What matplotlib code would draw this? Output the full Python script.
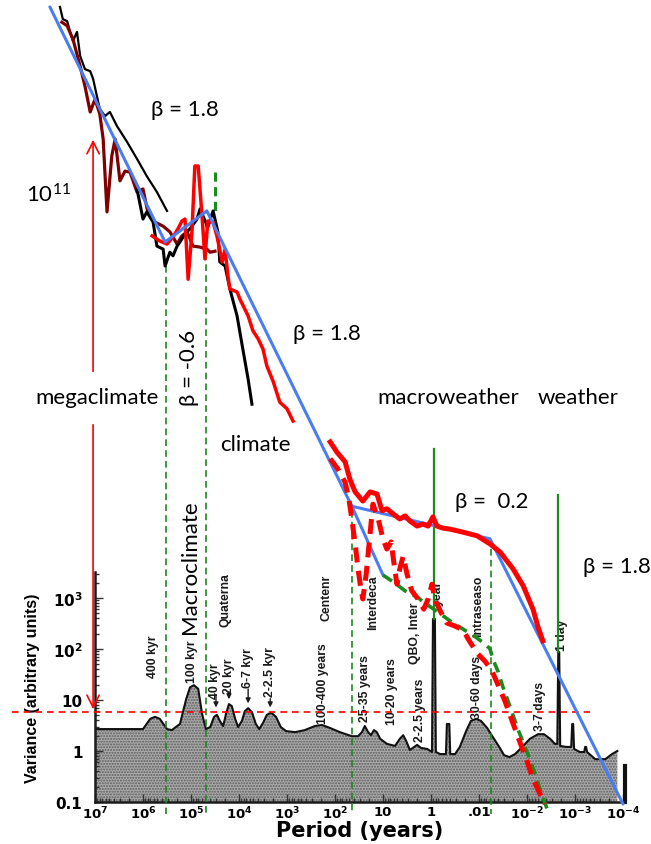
import numpy as np
import matplotlib
matplotlib.use("Agg")
import matplotlib.pyplot as plt

# all values are log10(period / years) and log10(variance, arbitrary units)

# Mitchell (1976) background spectrum
mitchell_logp = [7.0, 6.0, 5.85, 5.75, 5.65, 5.5, 5.4, 5.23, 5.1, 5.02,
                 4.94, 4.85, 4.77, 4.69, 4.6, 4.52, 4.46, 4.4, 4.33, 4.27,
                 4.21, 4.15, 4.08, 4.02, 3.94, 3.88, 3.81, 3.73, 3.65, 3.58,
                 3.5, 3.42, 3.33, 3.23, 3.13, 3.02, 2.83, 2.63, 2.42, 2.27,
                 2.1, 1.9, 1.65, 1.52, 1.44, 1.38, 1.31, 1.25, 1.19, 1.13,
                 1.06, 0.92, 0.75, 0.65, 0.58, 0.52, 0.44, 0.35, 0.29, 0.21,
                 0.08, -0.02, -0.04, -0.08, -0.1, -0.19, -0.31, -0.33, -0.38, -0.4,
                 -0.5, -0.6, -0.73, -0.83, -0.94, -1.04, -1.17, -1.29, -1.42, -1.52,
                 -1.63, -1.75, -1.9, -2.06, -2.23, -2.35, -2.48, -2.58, -2.63, -2.65,
                 -2.67, -2.69, -2.81, -2.92, -2.94, -2.96, -2.98, -3.1, -3.19, -3.21,
                 -3.23, -3.25, -3.42, -3.63, -3.77, -3.88]
mitchell_logv = [0.43, 0.43, 0.63, 0.67, 0.63, 0.43, 0.41, 0.53, 1.02, 1.25,
                 1.29, 1.22, 0.73, 0.43, 0.47, 0.67, 0.71, 0.59, 0.49, 0.73,
                 0.92, 0.88, 0.63, 0.47, 0.59, 0.78, 0.84, 0.76, 0.53, 0.43,
                 0.55, 0.71, 0.75, 0.67, 0.47, 0.39, 0.37, 0.41, 0.49, 0.51,
                 0.45, 0.37, 0.29, 0.29, 0.37, 0.49, 0.37, 0.31, 0.41, 0.37,
                 0.24, 0.14, 0.1, 0.24, 0.31, 0.2, 0.02, 0.08, 0.12, 0.06,
                 0.04, -0.02, 2.59, 2.59, -0.02, -0.06, -0.06, 0.53, 0.53, -0.06,
                 -0.06, 0.08, 0.39, 0.59, 0.63, 0.59, 0.45, 0.27, 0.08, -0.08,
                 -0.12, -0.06, 0.08, 0.24, 0.33, 0.33, 0.24, 0.14, 0.14, 1.94,
                 1.94, 0.1, 0.08, 0.08, 0.53, 0.53, 0.04, -0.02, -0.02, 0.08,
                 0.08, -0.02, -0.16, -0.16, -0.06, 0.0]

# scaling-regime fits
blue_logp = [7.94, 5.54, 4.67, 1.65, -1.23, -4.0]
blue_logv = [14.59, 9.98, 10.59, 4.80, 4.16, -1.04]
blue_branch_logp = [1.65, 1.0]
blue_branch_logv = [4.80, 3.45]

# paleo / instrumental spectra
black_hi_logp = [7.73, 7.67, 7.58, 7.52, 7.46, 7.375, 7.31, 7.21, 7.10, 7.04,
                 6.96, 6.90, 6.79, 6.69, 6.54, 6.33, 6.125, 5.92, 5.71, 5.5]
black_hi_logv = [14.59, 14.35, 14.31, 14.10, 13.92, 14.10, 13.63, 13.37, 13.33, 13.18,
                 12.84, 12.59, 12.45, 12.53, 12.25, 11.94, 11.61, 11.27, 10.96, 10.59]

black_lo_logp = [6.125, 6.0, 5.92, 5.79, 5.71, 5.58, 5.54, 5.44, 5.375, 5.29,
                 5.23, 5.125, 5.02, 4.875, 4.81, 4.75, 4.65, 4.54, 4.44, 4.40,
                 4.29, 4.19, 4.04, 3.92, 3.81, 3.73]
black_lo_logv = [11.02, 10.43, 10.57, 10.37, 9.90, 9.84, 9.51, 9.78, 9.71, 9.90,
                 9.98, 10.14, 10.24, 10.43, 10.63, 10.49, 10.27, 10.59, 10.18, 9.59,
                 9.51, 9.06, 8.53, 7.88, 7.29, 6.80]

darkred_logp = [7.69, 7.58, 7.46, 7.31, 7.21, 7.10, 7.0, 6.90, 6.83, 6.75,
                6.65, 6.58, 6.48, 6.375, 6.27, 6.125, 6.0, 5.90, 5.75, 5.58,
                5.44, 5.29, 5.19, 5.08, 4.96, 4.81, 4.67, 4.60, 4.5]
darkred_logv = [14.29, 14.22, 13.96, 13.43, 13.04, 12.53, 12.78, 12.49, 12.0, 10.57,
                11.67, 12.0, 11.18, 11.37, 11.35, 10.96, 11.02, 10.57, 10.37, 10.29,
                10.18, 9.94, 10.10, 10.18, 9.90, 9.88, 9.84, 9.78, 9.80]

red_logp = [5.81, 5.65, 5.5, 5.375, 5.27, 5.19, 5.125, 5.06, 4.98, 4.92,
            4.85, 4.77, 4.71, 4.65, 4.54, 4.46, 4.35, 4.29, 4.23, 4.19,
            4.04, 3.98, 3.81, 3.71, 3.60, 3.5, 3.42, 3.29, 3.15, 3.0, 2.875]
red_logv = [10.10, 10.0, 9.94, 10.08, 10.24, 10.39, 10.43, 9.25, 10.18, 11.47,
            11.47, 10.49, 9.65, 10.39, 10.37, 10.10, 9.59, 9.84, 9.31, 9.06,
            9.0, 8.86, 8.53, 8.24, 8.08, 7.88, 7.55, 7.25, 6.84, 6.71, 6.47]

macro_logp = [2.10, 1.96, 1.79, 1.69, 1.58, 1.42, 1.27, 1.125, 1.02, 0.92,
              0.79, 0.65, 0.54, 0.44, 0.29, 0.17, 0.06, -0.04, -0.125, -0.25,
              -0.40, -0.67, -0.96, -1.23, -1.44, -1.71, -1.92, -2.125, -2.23, -2.33]
macro_logv = [6.06, 5.86, 5.67, 5.33, 5.08, 4.90, 5.08, 5.04, 4.71, 4.75,
              4.65, 4.55, 4.61, 4.51, 4.41, 4.45, 4.41, 4.59, 4.41, 4.37,
              4.35, 4.29, 4.22, 4.06, 3.90, 3.57, 3.24, 2.78, 2.43, 2.16]

model_logp = [2.10, 1.94, 1.79, 1.71, 1.65, 1.58, 1.52, 1.46, 1.42, 1.35,
              1.29, 1.21, 1.10, 1.0, 0.92, 0.83, 0.77, 0.71, 0.65, 0.58,
              0.5, 0.40, 0.27, 0.15, 0.06, -0.02, -0.08, -0.19, -0.33, -0.5,
              -0.67, -0.81, -0.98, -1.125, -1.27, -1.40, -1.54, -1.69, -1.85, -2.0,
              -2.125, -2.27, -2.375]
model_logv = [5.73, 5.53, 5.27, 4.94, 4.55, 4.06, 3.57, 3.18, 2.98, 3.47,
              4.06, 4.84, 4.55, 4.16, 3.96, 4.10, 3.67, 3.27, 3.57, 3.82,
              3.47, 3.14, 2.98, 2.78, 2.98, 3.27, 2.98, 2.75, 2.51, 2.45,
              2.37, 2.14, 1.90, 1.76, 1.57, 1.29, 0.98, 0.59, 0.18, -0.20,
              -0.55, -0.84, -1.04]

green_logp = [1.0, 0.75, 0.54, 0.29, 0.125, -0.06, -0.25, -0.40, -0.60, -0.92,
              -1.125, -1.23, -1.29, -1.40, -1.5, -1.65, -1.81, -2.0, -2.17, -2.29, -2.42]
green_logv = [3.45, 3.29, 3.14, 3.02, 2.90, 2.78, 2.65, 2.55, 2.43, 2.24,
              2.10, 2.0, 1.80, 1.55, 1.25, 0.86, 0.43, -0.02, -0.45, -0.80, -1.14]

# regime boundaries
dashed_breaks = [5.52, 4.69, 1.65, -1.25]
dashed_tops = [9.51, 10.39, 4.71, 3.96]
solid_breaks = [-0.06, -2.65]
solid_tops = [5.92, 5.02]
solid_bottoms = [2.59, 1.94]

xtick_pos = [7, 6, 5, 4, 3, 2, 1, 0, -1, -2, -3, -4]
xtick_labels = [r'$\mathregular{10^7}$', r'$\mathregular{10^6}$', r'$\mathregular{10^5}$',
                r'$\mathregular{10^4}$', r'$\mathregular{10^3}$', r'$\mathregular{10^2}$',
                '10', '1', '.01', r'$\mathregular{10^{-2}}$', r'$\mathregular{10^{-3}}$',
                r'$\mathregular{10^{-4}}$']
ytick_pos = [-1, 0, 1, 2, 3]
ytick_labels = ['0.1', '1', '10', r'$\mathregular{10^2}$', r'$\mathregular{10^3}$']

peak_labels = [('400 kyr', 5.79, 1.86), ('100 kyr', 4.98, 1.76), ('40 kyr', 4.50, 1.39),
               ('20 kyr', 4.21, 1.49), ('6-7 kyr', 3.81, 1.65), ('2-2.5 kyr', 3.35, 1.57),
               ('Quaterna', 4.29, 2.98), ('Centenr', 2.17, 3.02), ('100-400 years', 2.25, 1.35),
               ('Interdeca', 1.21, 2.92), ('25-35 years', 1.375, 1.24), ('10-20 years', 0.81, 1.18),
               ('QBO, Inter', 0.33, 2.33), ('2-2.5 years', 0.23, 0.82), ('year', -0.15, 3.12),
               ('Intraseaso', -0.98, 2.86), ('30-60 days', -0.96, 1.27), ('3-7 days', -2.27, 0.90),
               ('1 day', -2.73, 2.29)]
peak_arrows = [(4.48, 1.16, 0.80), (4.21, 1.22, 0.96), (3.81, 1.27, 0.88), (3.35, 1.08, 0.80)]

W, H = 651, 845
fig = plt.figure(figsize=(W / 100, H / 100), dpi=100)

# ---- scanned background chart ----
ax0 = fig.add_axes([95 / W, 42 / H, 530 / W, 230 / H])
ax0.set_xlim(7, -4.04)
ax0.set_ylim(-1, 3.51)
ax0.fill_between(mitchell_logp, -1, mitchell_logv, facecolor='#ababab',
                 edgecolor='#5c5c5c', hatch='......', linewidth=0)
ax0.plot(mitchell_logp, mitchell_logv, color='#111111', lw=1.5)
ax0.plot([-4.04, -4.04], [-1, -0.29], color='#111111', lw=3, clip_on=False)
for s in ['top', 'right']:
    ax0.spines[s].set_visible(False)
for s in ['left', 'bottom']:
    ax0.spines[s].set_linewidth(1.8)
    ax0.spines[s].set_color('#1a1a1a')

ax0.set_xticks(xtick_pos)
ax0.set_xticklabels(xtick_labels, family='DejaVu Sans', weight='bold', size=9.5)
ax0.set_yticks(ytick_pos)
ax0.set_yticklabels(ytick_labels, family='DejaVu Sans', weight='bold', size=11)
minor_x = [k + np.log10(m) for k in range(-4, 7) for m in range(2, 10)]
minor_y = [k + np.log10(m) for k in range(-1, 4) for m in range(2, 10) if k + np.log10(m) < 3.5]
ax0.set_xticks(minor_x, minor=True)
ax0.set_yticks(minor_y, minor=True)
ax0.tick_params(which='both', direction='in', color='#333333', width=1)
ax0.tick_params(which='major', length=6)
ax0.tick_params(which='minor', length=3)
ax0.tick_params(axis='x', which='major', pad=2)
ax0.tick_params(axis='y', which='major', pad=9)
ax0.set_xlabel('Period (years)', family='DejaVu Sans', weight='bold', size=15, labelpad=-1)
ax0.set_ylabel('Variance (arbitrary units)', family='Liberation Sans', weight='bold',
               size=11.5, labelpad=9)
ax0.patch.set_alpha(0)

labfont = dict(family='Liberation Sans', weight='bold', size=8.8,
               rotation=90, ha='center', va='center', color='#1a1a1a')
for txt, lp, lv in peak_labels:
    ax0.text(lp, lv, txt, clip_on=False, **labfont)
for lp, v0, v1 in peak_arrows:
    ax0.annotate('', xy=(lp, v1), xytext=(lp, v0),
                 arrowprops=dict(arrowstyle='-|>', color='#1a1a1a', lw=1, mutation_scale=7))

# ---- overlay with the scaling regimes ----
ax = fig.add_axes([0, 0, 1, 1])
ax.set_xlim(431 / 48, (431 - W) / 48)
ax.set_ylim((752 - H) / 51, 752 / 51)
ax.axis('off')
ax.patch.set_alpha(0)

green = '#1d8a1d'
for x, top in zip(dashed_breaks, dashed_tops):
    ax.plot([x, x], [top, -1.24], color=green, lw=1.2, dashes=(4, 2.5))
ax.plot([4.5, 4.5], [11.35, 10.57], color=green, lw=2.2, dashes=(3, 1.8))
for x, top, bot in zip(solid_breaks, solid_tops, solid_bottoms):
    ax.plot([x, x], [top, bot], color=green, lw=1.6)

ax.plot([8.73, -3.31], [0.765, 0.765], color='red', lw=1.2, dashes=(4, 3))

ax.plot(black_hi_logp, black_hi_logv, color='black', lw=1.6)
ax.plot(darkred_logp, darkred_logv, color='#800000', lw=2.3)
ax.plot(black_lo_logp, black_lo_logv, color='black', lw=2.2)
ax.plot(red_logp, red_logv, color='red', lw=2.5)
ax.plot(blue_logp, blue_logv, color='#4a7ef0', lw=2.2, solid_capstyle='round')
ax.plot(blue_branch_logp, blue_branch_logv, color='#4a7ef0', lw=2.2)
ax.plot(macro_logp, macro_logv, color='red', lw=3.6)
ax.plot(green_logp, green_logv, color=green, lw=2.6, dashes=(3, 2))
ax.plot(model_logp, model_logv, color='red', lw=3.6, dashes=(3, 1.7))

arrow = dict(arrowstyle='->', color='red', lw=1.2, mutation_scale=22)
ax.annotate('', xy=(7.04, 12.04), xytext=(7.04, 7.39), arrowprops=arrow)
ax.annotate('', xy=(7.04, 0.765), xytext=(7.04, 6.45), arrowprops=arrow)

tf = dict(family=['Lato', 'DejaVu Sans'], size=16, ha='center', va='center', color='black')
ax.text(5.125, 12.59, 'β = 1.8', **tf)
ax.text(7.98, 10.92, r'$\mathregular{10^{11}}$', **tf)
ax.text(6.96, 6.94, 'megaclimate', **tf)
ax.text(5.04, 7.53, 'β = -0.6', rotation=90, **tf)
ax.text(3.65, 6.02, 'climate', **tf)
ax.text(2.17, 8.2, 'β = 1.8', **tf)
ax.text(-0.35, 6.94, 'macroweather', **tf)
ax.text(-3.06, 6.94, 'weather', **tf)
ax.text(-1.27, 4.9, 'β =  0.2', **tf)
ax.text(-3.875, 3.63, 'β = 1.8', **tf)
ax.text(5.02, 3.63, 'Macroclimate', rotation=90, **tf)

fig.savefig('out.png', dpi=100)
